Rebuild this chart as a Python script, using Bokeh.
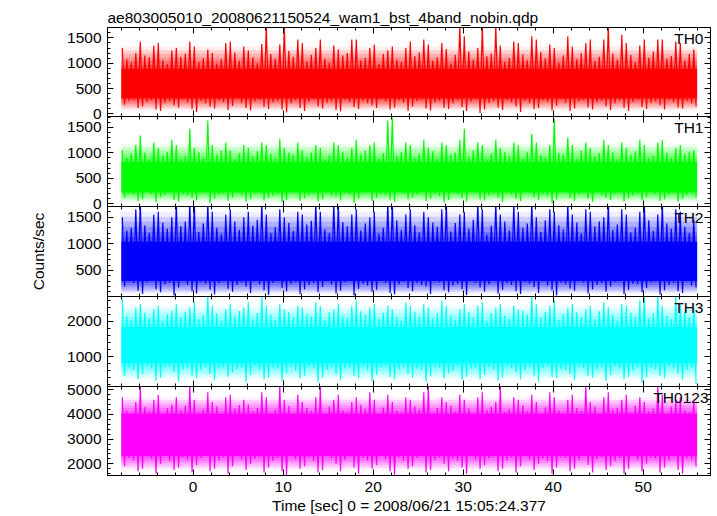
import numpy as np
from bokeh.plotting import figure
from bokeh.layouts import column
from bokeh.models import Range1d, LinearAxis, Label, SingleIntervalTicker
from bokeh.embed import file_html
from bokeh.resources import INLINE

# ---------------- data ----------------
title_text = "ae803005010_20080621150524_wam1_bst_4band_nobin.qdp"
x_label = "Time [sec] 0 = 2008/06/21 15:05:24.377"
y_label = "Counts/sec"
band_names = ["TH0", "TH1", "TH2", "TH3", "TH0123"]

t_start = -8.0      # start of the light curves (sec)
bin_width = 0.5     # 128 half-second bins, -8 .. 56 s

# highest spike and deepest dip in each half-second bin
th0_hi = [1300, 1080, 1010, 1200, 1430, 1150, 1120, 1350, 1400, 1060, 980, 1250, 1300, 1130, 1190, 1430, 1330, 1020, 1100, 1270,
          1200, 990, 1080, 1400, 1430, 1210, 1050, 1330, 1250, 1120, 1000, 1380, 1750, 1180, 1090, 1370, 1750, 1240, 1130, 1470,
          1400, 1040, 1160, 1300, 1470, 1090, 1010, 1350, 1270, 1150, 1200, 1470, 1470, 1060, 1110, 1300, 1370, 980, 1180, 1250,
          1330, 1070, 1020, 1300, 1430, 1140, 1210, 1470, 1370, 1050, 1120, 1400, 1280, 990, 1160, 1750, 1530, 1230, 1070, 1300,
          1750, 1140, 1190, 1750, 1350, 1030, 1110, 1430, 1400, 1170, 1060, 1530, 1470, 1220, 1100, 1370, 1300, 1010, 1150, 1530,
          1330, 1080, 1200, 1400, 1470, 1040, 1130, 1470, 1750, 1190, 1070, 1560, 1400, 1160, 1020, 1350, 1470, 1110, 1230, 1470,
          1470, 1090, 1140, 1430, 1400, 1050, 1180, 1270]
th0_lo = [180, 260, 280, 120, 150, 240, 270, 90, 60, 220, 250, 170, 130, 290, 230, 100, 40, 260, 210, 150,
          110, 270, 240, 80, 160, 300, 220, 120, 70, 250, 280, 140, 100, 230, 260, 90, 30, 210, 270, 120,
          60, 240, 290, 150, 110, 220, 250, 80, 50, 280, 230, 140, 100, 260, 210, 170, 120, 290, 240, 90,
          130, 270, 220, 60, 150, 250, 280, 110, 70, 230, 260, 120, 100, 210, 270, 140, 60, 240, 290, 20,
          90, 220, 250, 130, 80, 280, 230, 150, 40, 260, 210, 100, 120, 270, 240, 70, 160, 290, 220, 60,
          110, 250, 280, 130, 90, 230, 260, 150, 80, 210, 270, 120, 60, 240, 290, 140, 100, 220, 250, 170,
          90, 280, 230, 130, 110, 260, 210, 150]
th1_hi = [1050, 900, 980, 1150, 1340, 1000, 870, 1200, 1100, 950, 1020, 1250, 1150, 880, 940, 1470, 1100, 1010, 900, 1630,
          1150, 960, 1040, 1200, 1050, 870, 990, 1150, 1100, 920, 1030, 1200, 1150, 980, 890, 1270, 1100, 1000, 960, 1200,
          1050, 910, 1000, 1150, 1100, 860, 950, 1200, 1150, 1020, 900, 1100, 1250, 970, 1040, 1150, 1200, 880, 990, 1630,
          1690, 940, 1010, 1200, 1150, 900, 970, 1250, 1100, 1030, 880, 1200, 1150, 960, 1000, 1250, 1470, 920, 1050, 1200,
          1150, 870, 980, 1250, 1100, 1010, 930, 1200, 1150, 890, 1020, 1370, 1200, 950, 900, 1150, 1660, 1000, 970, 1300,
          1150, 880, 1040, 1200, 1100, 930, 990, 1250, 1150, 1010, 870, 1200, 1100, 960, 1030, 1250, 1150, 900, 940, 1200,
          1250, 1000, 890, 1100, 1150, 970, 1020, 1050]
th1_lo = [120, 210, 180, 60, 90, 240, 200, 30, 140, 170, 230, 80, 50, 190, 160, 110, 70, 250, 220, 20,
          100, 180, 200, 60, 130, 230, 170, 40, 90, 210, 240, 70, 120, 160, 190, 30, 80, 220, 250, 60,
          110, 170, 200, 50, 90, 230, 160, 140, 70, 210, 180, 20, 100, 240, 220, 60, 120, 190, 170, 80,
          40, 230, 210, 90, 130, 180, 250, 60, 100, 200, 160, 30, 80, 220, 190, 110, 50, 240, 230, 90,
          70, 170, 200, 120, 40, 210, 180, 100, 60, 250, 220, 130, 80, 190, 160, 20, 90, 230, 240, 110,
          60, 180, 210, 100, 40, 220, 170, 120, 80, 200, 250, 50, 110, 160, 190, 70, 130, 230, 200, 60,
          90, 180, 220, 40, 100, 170, 240, 120]
th2_hi = [1500, 1250, 1300, 1650, 1800, 1350, 1200, 1550, 1600, 1400, 1280, 1500, 1800, 1330, 1420, 1800, 1800, 1220, 1380, 1800,
          1600, 1300, 1180, 1550, 1650, 1420, 1260, 1500, 1600, 1340, 1450, 1800, 1550, 1200, 1310, 1650, 1500, 1390, 1240, 1600,
          1550, 1360, 1430, 1800, 1600, 1270, 1200, 1800, 1800, 1410, 1330, 1550, 1650, 1250, 1380, 1500, 1600, 1190, 1300, 1800,
          1800, 1440, 1260, 1550, 1650, 1350, 1210, 1600, 1500, 1400, 1320, 1650, 1800, 1230, 1390, 1550, 1600, 1280, 1450, 1800,
          1650, 1170, 1340, 1800, 1550, 1420, 1250, 1800, 1600, 1300, 1380, 1800, 1500, 1220, 1440, 1650, 1600, 1350, 1270, 1800,
          1550, 1400, 1190, 1650, 1600, 1330, 1420, 1500, 1800, 1260, 1360, 1650, 1550, 1210, 1300, 1600, 1800, 1440, 1240, 1550,
          1800, 1380, 1280, 1650, 1600, 1320, 1200, 1450]
th2_lo = [200, 300, 260, 120, 60, 280, 320, 150, 90, 240, 270, 30, 180, 310, 230, 110, 70, 290, 250, 140,
          50, 260, 300, 160, 100, 230, 280, 200, 80, 320, 240, 130, 40, 270, 310, 170, 110, 250, 290, 60,
          150, 230, 260, 90, 190, 300, 240, 70, 120, 280, 320, 30, 160, 250, 220, 100, 140, 310, 270, 80,
          50, 240, 290, 170, 110, 260, 230, 200, 60, 300, 280, 130, 90, 220, 250, 150, 40, 320, 270, 180,
          100, 240, 310, 70, 140, 260, 230, 110, 60, 290, 250, 190, 80, 300, 220, 130, 30, 270, 240, 160,
          120, 310, 280, 70, 150, 230, 260, 100, 200, 290, 320, 60, 140, 250, 240, 90, 170, 280, 300, 50,
          130, 230, 270, 110, 80, 300, 220, 180]
th3_hi = [2650, 2150, 2050, 2400, 2500, 2250, 2100, 2350, 2450, 2000, 2200, 2300, 2500, 2120, 2280, 2400, 2550, 2060, 2180, 2800,
          2450, 2230, 2020, 2350, 2500, 2160, 2300, 2400, 2550, 2080, 2240, 2800, 2450, 2190, 2040, 2500, 2350, 2270, 2110, 2450,
          2400, 2210, 2140, 2550, 2450, 2030, 2260, 2350, 2500, 2170, 2090, 2450, 2600, 2290, 2200, 2400, 2500, 2060, 2250, 2450,
          2350, 2130, 2010, 2550, 2450, 2280, 2150, 2500, 2400, 2090, 2230, 2600, 2450, 2180, 2050, 2350, 2500, 2270, 2120, 2450,
          2550, 2000, 2240, 2400, 2500, 2160, 2080, 2450, 2350, 2300, 2190, 2800, 2500, 2110, 2270, 2450, 2600, 2040, 2210, 2400,
          2500, 2260, 2130, 2350, 2450, 2070, 2290, 2550, 2400, 2180, 2020, 2500, 2450, 2250, 2140, 2600, 2800, 2090, 2230, 2800,
          2450, 2170, 2060, 2800, 2500, 2280, 2110, 2400]
th3_lo = [450, 680, 620, 350, 500, 720, 650, 300, 400, 700, 740, 550, 280, 630, 690, 450, 380, 610, 710, 500,
          320, 660, 700, 420, 550, 640, 680, 260, 480, 730, 620, 350, 400, 690, 650, 300, 520, 710, 600, 380,
          450, 740, 670, 250, 400, 620, 700, 500, 330, 650, 690, 450, 380, 720, 610, 290, 480, 680, 730, 420,
          350, 640, 700, 500, 400, 660, 620, 270, 450, 710, 680, 380, 520, 600, 740, 330, 420, 650, 690, 360,
          480, 700, 630, 300, 400, 720, 660, 550, 350, 610, 700, 450, 280, 680, 740, 420, 380, 640, 620, 500,
          320, 710, 670, 450, 400, 630, 690, 300, 480, 720, 650, 350, 420, 600, 710, 260, 400, 680, 640, 450,
          380, 730, 660, 500, 330, 620, 690, 230]
th0123_hi = [4700, 4150, 4050, 4500, 5200, 4300, 4100, 4600, 4800, 4000, 4250, 4400, 4700, 4180, 4350, 5200, 4600, 4080, 4200, 4900,
             4500, 4320, 4020, 4700, 4800, 4230, 4380, 4600, 4400, 4120, 4270, 4900, 4700, 4060, 4190, 5200, 4600, 4340, 4030, 4800,
             4500, 4260, 4140, 4700, 5200, 4050, 4310, 4600, 4800, 4170, 4090, 4500, 4700, 4390, 4220, 4900, 4600, 4010, 4280, 4800,
             4500, 4150, 4070, 4700, 4600, 4330, 4200, 4900, 5200, 4040, 4260, 4700, 4500, 4360, 4110, 4800, 4600, 4240, 4020, 4700,
             4900, 4180, 4300, 4500, 5200, 4080, 4210, 4700, 4600, 4370, 4130, 4800, 4500, 4030, 4290, 4900, 4700, 4160, 4060, 4600,
             4800, 4250, 4140, 5200, 4500, 4320, 4000, 4700, 4900, 4190, 4270, 4600, 4800, 4080, 4350, 4700, 4500, 4120, 4230, 5200,
             4800, 4040, 4310, 4600, 4700, 4170, 4090, 4500]
th0123_lo = [1900, 2250, 2150, 1700, 1800, 2300, 2200, 1600, 2000, 2350, 2120, 1750, 1850, 2280, 2180, 1650, 1950, 2230, 2320, 1700,
             1800, 2140, 2260, 1600, 1900, 2340, 2170, 1750, 2000, 2210, 2290, 1650, 1850, 2130, 2240, 1700, 1550, 2310, 2190, 1800,
             1900, 2270, 2110, 1650, 1750, 2330, 2220, 2000, 1700, 2160, 2300, 1850, 1600, 2250, 2140, 1800, 1950, 2350, 2200, 1700,
             1550, 2280, 2130, 1800, 1900, 2240, 2320, 1650, 1750, 2170, 2260, 2000, 1700, 2210, 2120, 1850, 1600, 2340, 2190, 1800,
             1950, 2230, 2300, 1700, 1800, 2150, 2270, 1650, 1900, 2330, 2180, 1750, 2000, 2220, 2110, 1600, 1850, 2290, 2250, 1700,
             1800, 2160, 2340, 1950, 1650, 2200, 2280, 1750, 1900, 2130, 2240, 1600, 1800, 2310, 2170, 1700, 2000, 2260, 2210, 1650,
             1850, 2140, 2300, 1750, 1600, 2230, 2190, 1900]

# solid band of each curve (low, high) and the typical dip / spike level around it
core_th0 = (300, 900)
core_th1 = (220, 820)
core_th2 = (300, 1050)
core_th3 = (800, 1850)
core_th0123 = (2300, 4050)
fringe_th0 = (70, 1330)
fringe_th1 = (40, 1170)
fringe_th2 = (60, 1600)
fringe_th3 = (350, 2450)
fringe_th0123 = (1750, 4700)

# axis ranges and tick spacing
y_ranges = [(-50, 1705), (-50, 1710), (12, 1700), (143, 2714), (1526, 5134)]
y_tick_steps = [500, 500, 500, 1000, 1000]
x_axis_range = (-9.52, 57.48)

# ---------------- styling ----------------
FONT = "Liberation Sans"
FS = "15.5px"
colors = ["#ff0000", "#00ff00", "#0000ff", "#00ffff", "#ff00ff"]
label_x = [56.7, 56.7, 56.7, 56.7, 57.26]

his = [th0_hi, th1_hi, th2_hi, th3_hi, th0123_hi]
los = [th0_lo, th1_lo, th2_lo, th3_lo, th0123_lo]
cores = [core_th0, core_th1, core_th2, core_th3, core_th0123]
fringes = [fringe_th0, fringe_th1, fringe_th2, fringe_th3, fringe_th0123]

W = 714
FRAME_LEFT = 107
FRAME_W = 603
TOP = 27
BOTTOM = 41
E = 10                      # overlap pad so that edge tick labels are not clipped
frame_h = [89, 90, 90, 90, 89]
N_FADE = 6                  # steps of the fading fringe

xr = Range1d(*x_axis_range)


def style_axis(ax, labels):
    ax.axis_line_color = "black"
    ax.axis_line_width = 1
    ax.major_tick_line_color = "black"
    ax.minor_tick_line_color = "black"
    ax.major_tick_in = 6
    ax.major_tick_out = 0
    ax.minor_tick_in = 3
    ax.minor_tick_out = 0
    if labels:
        ax.major_label_text_font = FONT
        ax.major_label_text_font_size = FS
        ax.major_label_text_color = "black"
    else:
        ax.major_label_text_font_size = "0px"
        ax.major_label_text_color = None
        ax.major_label_standoff = 0


figs = []
n = len(band_names)
for k in range(n):
    first = k == 0
    last = k == n - 1
    b_top = TOP if first else E
    b_bot = BOTTOM if last else E
    h = frame_h[k] + b_top + b_bot
    p = figure(width=W, height=h, x_range=xr, y_range=Range1d(*y_ranges[k]),
               output_backend="svg", toolbar_location=None,
               x_axis_location=None, y_axis_location=None,
               min_border_left=FRAME_LEFT, min_border_right=W - FRAME_LEFT - FRAME_W,
               min_border_top=b_top, min_border_bottom=b_bot,
               margin=(0 if first else -2 * E, 0, 0, 0))
    p.grid.visible = False
    p.outline_line_color = "black"
    p.background_fill_alpha = 0
    p.border_fill_alpha = 0

    xt = SingleIntervalTicker(interval=10, num_minor_ticks=5)
    yt = SingleIntervalTicker(interval=y_tick_steps[k], num_minor_ticks=5)

    bottom = LinearAxis(ticker=xt)
    style_axis(bottom, last)
    if last:
        bottom.major_label_standoff = 6
        bottom.axis_label = x_label
        bottom.axis_label_text_font = FONT
        bottom.axis_label_text_font_size = FS
        bottom.axis_label_text_font_style = "normal"
        bottom.axis_label_text_color = "black"
        bottom.axis_label_standoff = 2
    p.add_layout(bottom, "below")

    top = LinearAxis(ticker=xt)
    style_axis(top, False)
    p.add_layout(top, "above")

    left = LinearAxis(ticker=yt)
    style_axis(left, True)
    left.major_label_standoff = 6
    if k == 2:
        left.axis_label = y_label
        left.axis_label_text_font = FONT
        left.axis_label_text_font_size = FS
        left.axis_label_text_font_style = "normal"
        left.axis_label_text_color = "black"
        left.axis_label_standoff = 17
    p.add_layout(left, "left")

    right = LinearAxis(ticker=yt)
    style_axis(right, False)
    p.add_layout(right, "right")

    if first:
        p.title.text = title_text
        p.title.text_font = FONT
        p.title.text_font_size = FS
        p.title.text_font_style = "normal"
        p.title.text_color = "black"
        p.title.align = "left"
        p.title.standoff = 4

    hi = np.asarray(his[k], dtype=float)
    lo = np.asarray(los[k], dtype=float)
    nb = min(len(hi), len(lo))
    hi, lo = hi[:nb], lo[:nb]
    edges = t_start + bin_width * np.arange(nb + 1)
    xspan = [edges[0], edges[-1]]
    c_lo, c_hi = cores[k]
    f_lo, f_hi = fringes[k]
    # fading fringe above and below the solid band (densely overlapping spikes)
    up = np.linspace(c_hi, f_hi, N_FADE + 1)
    dn = np.linspace(c_lo, f_lo, N_FADE + 1)
    for j in range(N_FADE):
        a = 0.75 * (1.0 - (j + 0.5) / N_FADE)
        p.varea(x=xspan, y1=[up[j]] * 2, y2=[up[j + 1]] * 2,
                fill_color=colors[k], fill_alpha=a)
        p.varea(x=xspan, y1=[dn[j + 1]] * 2, y2=[dn[j]] * 2,
                fill_color=colors[k], fill_alpha=a)
    # solid core band
    p.varea(x=xspan, y1=[c_lo] * 2, y2=[c_hi] * 2, fill_color=colors[k])
    # spikes: one peak and one dip per bin
    xs = np.empty(2 * nb)
    ys = np.empty(2 * nb)
    xs[0::2] = edges[:-1] + 0.25 * bin_width
    xs[1::2] = edges[:-1] + 0.75 * bin_width
    ys[0::2] = hi
    ys[1::2] = lo
    p.line(xs, ys, line_color=colors[k], line_width=1.2)

    y0, y1 = y_ranges[k]
    ylab = y1 - 11.0 * (y1 - y0) / frame_h[k]
    p.add_layout(Label(x=label_x[k], y=ylab, text=band_names[k],
                       text_align="right", text_baseline="middle",
                       text_font=FONT, text_font_size=FS, text_color="black"))
    figs.append(p)

layout = column(*figs, spacing=0)
open("out.html", "w").write(file_html(layout, INLINE))
